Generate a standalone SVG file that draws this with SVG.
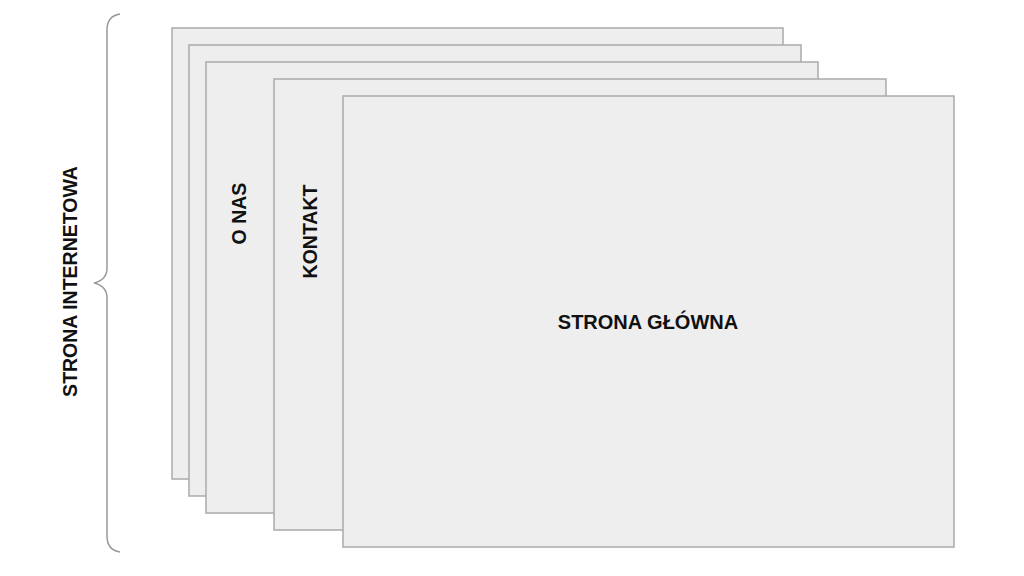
<svg xmlns="http://www.w3.org/2000/svg" width="1024" height="576" viewBox="0 0 1024 576">
<style>
.page{fill:#eeeeee;stroke:#aaaaaa;stroke-width:1.5}
.lbl{font-family:"Liberation Sans",Arial,sans-serif;font-weight:bold;fill:#111111;text-anchor:middle}
.brace{fill:none;stroke:#999999;stroke-width:1.5}
</style>
<rect width="1024" height="576" fill="#ffffff"/>
<g id="brace">
<path class="brace" d="M120,14 Q107,16 107,30 L107,268 Q107,280 94,283 Q107,286 107,298 L107,536 Q107,550 120,552"/>
<text class="lbl" font-size="19.5" transform="translate(77,281.5) rotate(-90)">STRONA INTERNETOWA</text>
</g>
<g id="page1"><rect class="page" x="172" y="28" width="611" height="451"/></g>
<g id="page2"><rect class="page" x="189" y="45" width="612" height="451"/></g>
<g id="page3"><rect class="page" x="206" y="62" width="612" height="451"/>
<text class="lbl" font-size="19.5" transform="translate(246,213.5) rotate(-90)">O NAS</text></g>
<g id="page4"><rect class="page" x="274" y="79" width="612" height="451"/>
<text class="lbl" font-size="19.5" transform="translate(317,231.5) rotate(-90)">KONTAKT</text></g>
<g id="page5"><rect class="page" x="343" y="96" width="611" height="451"/>
<text class="lbl" x="648" y="328.5" font-size="20">STRONA GŁÓWNA</text></g>
<g id="connectors"></g>
</svg>
